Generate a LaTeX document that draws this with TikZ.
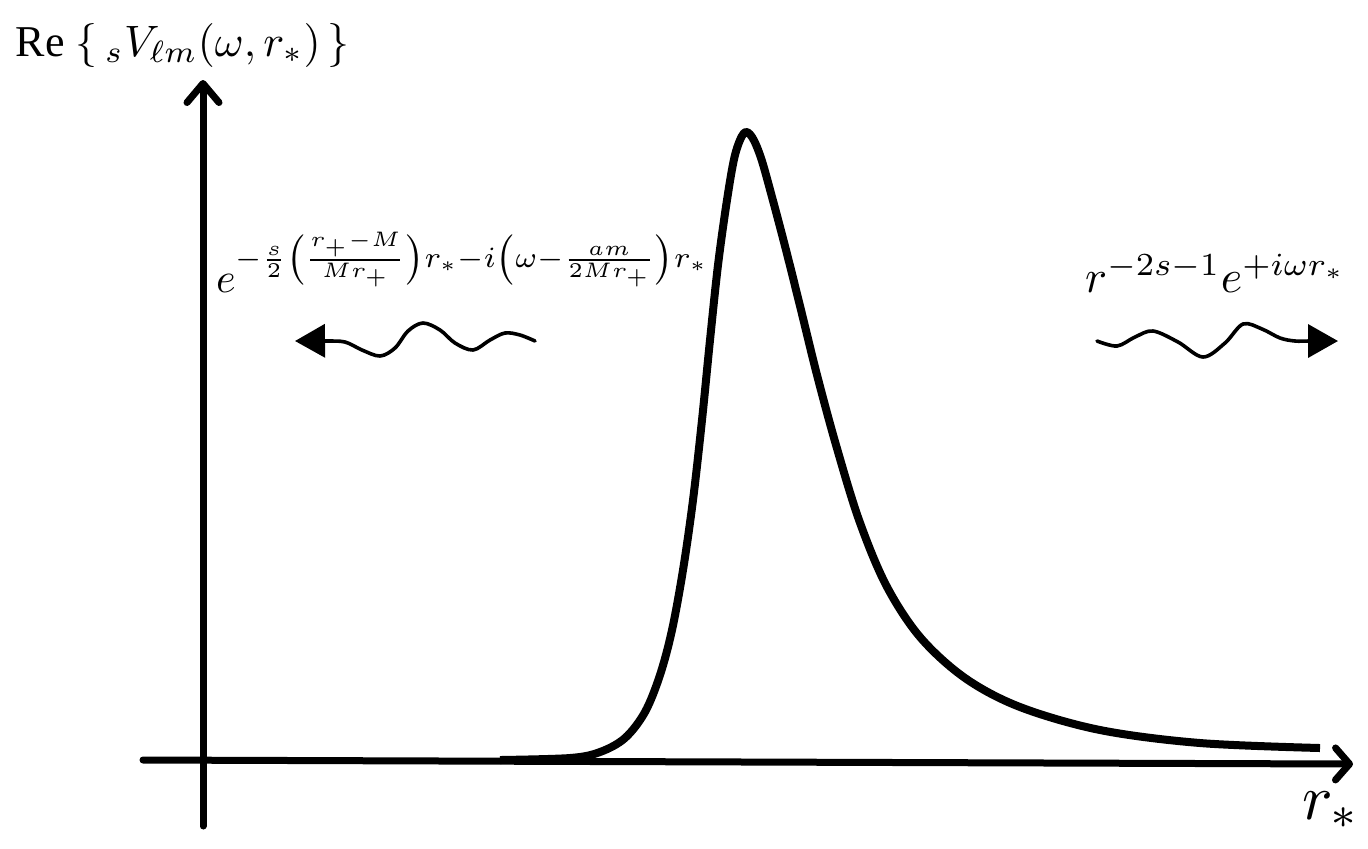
\documentclass[tikz,border=0pt]{standalone}
\usepackage{fontspec}
\usetikzlibrary{arrows.meta}
\newfontfamily\timesf{Liberation Serif}
\begin{document}
\begin{tikzpicture}[x=0.25pt,y=-0.25pt,
  axisline/.style={line width=1.75pt,line cap=round,line join=round},
  potcurve/.style={line width=2pt,line join=round},
  waveline/.style={line width=0.9pt,line cap=round},
  wavetip/.style={-{Triangle[length=7.5pt,width=8.25pt]}},
  lbl/.style={inner sep=0pt,outer sep=0pt,font=\fontsize{10}{12}\selectfont}]
\useasboundingbox (0,0) rectangle (1368,848);
% axes
\coordinate (xa0) at (143,760);
\coordinate (xa1) at (1353,764);
\coordinate (ya0) at (203,826);
\coordinate (ya1) at (203,80);
\draw[axisline,-{Straight Barb[length=3.5pt,width=8pt,round]}] (xa0) -- (xa1);
\draw[axisline,-{Straight Barb[length=4.75pt,width=8pt,round]}] (ya0) -- (ya1);
% potential curve
\draw[potcurve] plot[smooth,tension=0.55] coordinates {
(500,760) (570,758) (600,752) (625,738) (645,712) (660,675) (672,630) (683,570)
(693,500) (702,420) (710,340) (718,265) (727,200) (735,155) (744,133) (752,137)
(761,158) (772,197) (786,250) (801,310) (817,375) (836,445) (859,520) (886,585)
(920,637) (965,678) (1020,707) (1100,730) (1200,743) (1320,748)};
% wavy arrows
\draw[waveline,wavetip] plot[smooth,tension=0.55] coordinates {
(535,341) (520,335) (505,333) (490,340) (473,350) (455,343) (440,330) (423,323)
(408,331) (395,348) (380,356) (362,350) (345,342) (325,341) (295,341)};
\draw[waveline,wavetip] plot[smooth,tension=0.55] coordinates {
(1097,341) (1117,346) (1135,337) (1153,331) (1178,342) (1203,357) (1225,343)
(1243,324) (1262,329) (1280,338) (1295,341) (1310,341) (1338,341)};
% labels
\node[lbl,anchor=base west,scale=1.1] (ylab) at (16,56) {\timesf Re $\{\,{}_sV_{\ell m}(\omega,r_*)\,\}$};
\node[lbl,anchor=base west,scale=1.05] (lform) at (216,292) {$e^{-\frac{s}{2}\left(\frac{r_+-M}{Mr_+}\right)r_*-i\left(\omega-\frac{am}{2Mr_+}\right)r_*}$};
\node[lbl,anchor=base west,scale=1.15] (rform) at (1085,292) {$r^{-2s-1}e^{+i\omega r_*}$};
\node[lbl,anchor=base west,scale=1.6] (xlab) at (1302,819) {$r_*$};
\end{tikzpicture}
\end{document}
